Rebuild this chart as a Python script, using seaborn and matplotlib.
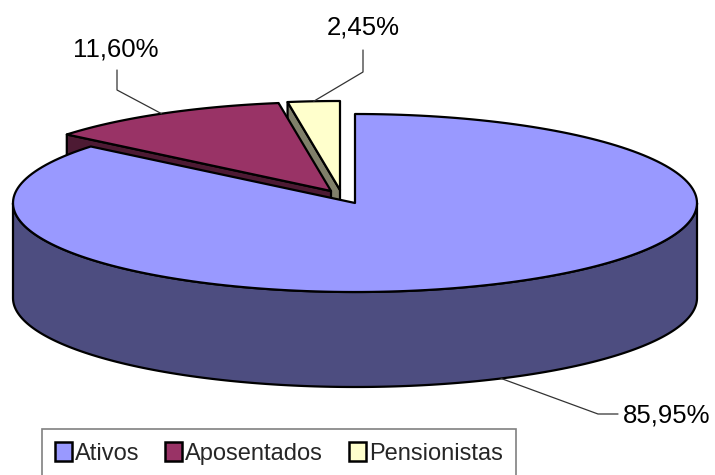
import numpy as np
import matplotlib.pyplot as plt
from matplotlib.patches import Polygon, Patch
import seaborn as sns

# dados do gráfico
categorias = ['Ativos', 'Aposentados', 'Pensionistas']
percentuais = [85.95, 11.60, 2.45]
cores_topo = ['#9999FF', '#993366', '#FFFFCC']
cores_lado = ['#4D4D80', '#4D1A33', '#80806A']

sns.set_theme(style='white')
plt.rcParams['font.family'] = ['Liberation Sans', 'DejaVu Sans']

# geometria da pizza 3D (em pixels)
cx, cy = 355, 203
a, b = 342, 89
prof = 95
desloc = [(0, 0), (-24, -12), (-15, -13)]  # explosão das fatias

angulos = np.concatenate([[0], np.cumsum(percentuais) * 3.6])


def ponto(t, dx=0, dy=0, z=0):
    r = np.radians(t)
    return cx + a * np.sin(r) + dx, cy - b * np.cos(r) + dy + z


def arco(t0, t1, dx=0, dy=0, z=0, n=200):
    ts = np.linspace(t0, t1, n)
    return [ponto(t, dx, dy, z) for t in ts]


fig = plt.figure(figsize=(7.15, 4.75), dpi=100)
ax = fig.add_axes([0, 0, 1, 1])
ax.set_xlim(0, 715)
ax.set_ylim(475, 0)
ax.axis('off')

kw = dict(edgecolor='black', linewidth=1.6, joinstyle='round')

# ordem de desenho: de trás para frente
for i in [2, 1]:
    t0, t1 = angulos[i], angulos[i + 1]
    dx, dy = desloc[i]
    apice = (cx + dx, cy + dy)
    borda = ponto(t0, dx, dy)
    face = [apice, borda, (borda[0], borda[1] + prof), (apice[0], apice[1] + prof)]
    ax.add_patch(Polygon(face, closed=True, facecolor=cores_lado[i], **kw))
    topo = [apice] + arco(t0, t1, dx, dy)
    ax.add_patch(Polygon(topo, closed=True, facecolor=cores_topo[i], **kw))

# Ativos: lateral frontal e topo
lado = arco(90, 270) + arco(270, 90, z=prof)
ax.add_patch(Polygon(lado, closed=True, facecolor=cores_lado[0], **kw))
topo = [(cx, cy)] + arco(angulos[0], angulos[1])
ax.add_patch(Polygon(topo, closed=True, facecolor=cores_topo[0], **kw))

# rótulos com linhas de chamada
rotulos = [f'{p:.2f}%'.replace('.', ',') for p in percentuais]
meio = (angulos[:-1] + angulos[1:]) / 2
ancoras = [ponto(meio[0], z=prof)] + [ponto(meio[i], *desloc[i]) for i in [1, 2]]
cotovelos = [[(618, 414), (598, 414)], [(117, 70), (117, 90)], [(363, 50), (363, 72)]]
pos_texto = [(623, 415, 'left', 'center'), (116, 49, 'center', 'center'),
             (363, 28, 'center', 'center')]

for rot, anc, cot, (tx, ty, ha, va) in zip(rotulos, ancoras, cotovelos, pos_texto):
    xs = [cot[0][0], cot[1][0], anc[0]]
    ys = [cot[0][1], cot[1][1], anc[1]]
    ax.plot(xs, ys, color='#333333', linewidth=0.9)
    ax.text(tx, ty, rot, fontsize=18.5, ha=ha, va=va, color='black')

# legenda
handles = [Patch(facecolor=c, edgecolor='black', linewidth=1.8, label=n)
           for c, n in zip(cores_topo, categorias)]
leg = ax.legend(handles=handles, ncol=3, loc='upper left',
                bbox_to_anchor=(42 / 715, 1 - 429 / 475), frameon=True,
                fancybox=False, edgecolor='#606060', fontsize=17,
                handlelength=0.72, handleheight=0.85, handletextpad=0.12,
                columnspacing=1.1, borderaxespad=0, borderpad=0.55)
leg.get_frame().set_linewidth(1.2)

fig.savefig('out.png', dpi=100, facecolor='white')
